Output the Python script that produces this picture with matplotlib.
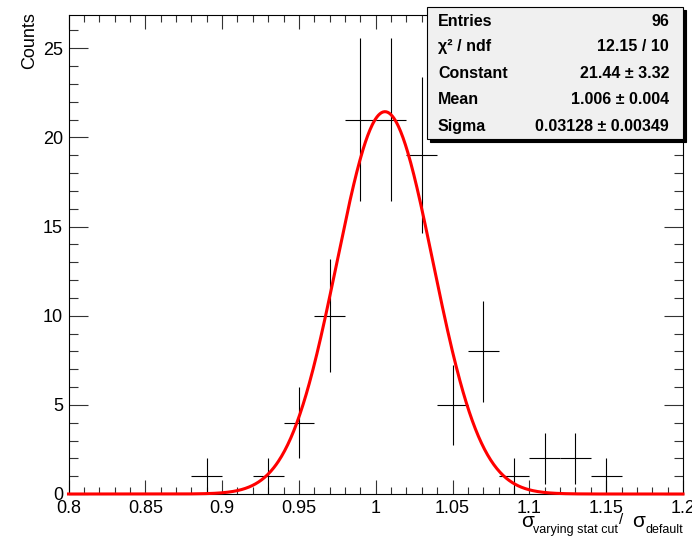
import numpy as np
import matplotlib.pyplot as plt
from matplotlib.patches import Rectangle
from matplotlib.ticker import MultipleLocator

plt.rcParams['font.family'] = ['Liberation Sans', 'DejaVu Sans']

# histogram (bin width 0.02)
bin_centers = [0.81, 0.83, 0.85, 0.87, 0.89, 0.91, 0.93, 0.95, 0.97, 0.99,
               1.01, 1.03, 1.05, 1.07, 1.09, 1.11, 1.13, 1.15, 1.17, 1.19]
counts = [0, 0, 0, 0, 1, 0, 1, 4, 10, 21, 21, 19, 5, 8, 1, 2, 2, 1, 0, 0]
bin_half = 0.01

# gaussian fit results
fit_constant = 21.44
fit_mean = 1.006
fit_sigma = 0.03128

stat_names = ['Entries', 'χ² / ndf', 'Constant', 'Mean', 'Sigma']
stat_values = ['96', '12.15 / 10', '21.44 ± 3.32', '1.006 ± 0.004', '0.03128 ± 0.00349']

x_ticks = [0.8, 0.85, 0.9, 0.95, 1.0, 1.05, 1.1, 1.15, 1.2]
y_ticks = [0, 5, 10, 15, 20, 25]

W, H = 692, 537
fig = plt.figure(figsize=(W / 100, H / 100), dpi=100)

def px(x, y):
    # pixel coords (from top-left) -> figure fraction
    return x / W, 1 - y / H

left, right, top, bottom = 68.5, 683, 15, 494
ax = fig.add_axes([left / W, 1 - bottom / H, (right - left) / W, (bottom - top) / H])

c = np.array(counts, dtype=float)
xc = np.array(bin_centers)
err = np.sqrt(c)
m = c > 0
ax.errorbar(xc[m], c[m], xerr=bin_half, yerr=err[m], fmt='none',
            ecolor='black', elinewidth=0.8, capsize=0, zorder=2)

xf = np.linspace(0.8, 1.2, 800)
yf = fit_constant * np.exp(-0.5 * ((xf - fit_mean) / fit_sigma) ** 2)
ax.plot(xf, yf, color='#ff0000', lw=2.2, zorder=3, clip_on=False)

ax.set_xlim(0.8, 1.2)
ax.set_ylim(0, (c + err).max() * 1.05)
ax.set_xticks(x_ticks)
ax.set_xticklabels(['%g' % v for v in x_ticks])
ax.set_yticks(y_ticks)
ax.set_yticklabels(['%g' % v for v in y_ticks])
ax.xaxis.set_minor_locator(MultipleLocator(0.01))
ax.yaxis.set_minor_locator(MultipleLocator(1))
ax.tick_params(axis='both', which='both', direction='in', top=True, right=True,
               labelsize=13, width=0.8, color='#333333')
ax.tick_params(axis='x', which='major', length=10, pad=4)
ax.tick_params(axis='x', which='minor', length=5)
ax.tick_params(axis='y', which='major', length=13.5, pad=4)
ax.tick_params(axis='y', which='minor', length=6.8)
for s in ax.spines.values():
    s.set_linewidth(0.8)

# axis titles
fig.text(*px(30, 12), 'Counts', rotation=90, ha='center', va='top', fontsize=13)
# x title, ROOT-like: sigma with lowered subscripts
xtitle_parts = [('σ', 521, 527, 15), ('varying stat cut', 533, 533, 9),
                ('/', 619, 524, 11), ('σ', 632, 527, 15), ('default', 645, 533, 9)]
for txt, xx, yy, fs in xtitle_parts:
    fig.text(*px(xx, yy), txt, ha='left', va='baseline', fontsize=fs)

# stat box
bx0, by0, bx1, by1 = 427, 7, 683, 139
sx, sy = px(bx0 + 3, by1 + 3)
fig.patches.append(Rectangle((sx, sy), (bx1 - bx0) / W, (by1 - by0) / H,
                             transform=fig.transFigure, facecolor='black',
                             edgecolor='black', lw=0.8, zorder=5))
ox, oy = px(bx0, by1)
fig.patches.append(Rectangle((ox, oy), (bx1 - bx0) / W, (by1 - by0) / H,
                             transform=fig.transFigure, facecolor='#f0f0f0',
                             edgecolor='black', lw=0.8, zorder=6))
row_y = [21.7, 46.7, 73, 100, 126.7]
for name, val, yy in zip(stat_names, stat_values, row_y):
    fig.text(*px(438, yy), name, ha='left', va='center', fontsize=11.5,
             fontweight='bold', zorder=7)
    fig.text(*px(669, yy), val, ha='right', va='center', fontsize=11.5,
             fontweight='bold', zorder=7)

fig.savefig('out.png', dpi=100)
